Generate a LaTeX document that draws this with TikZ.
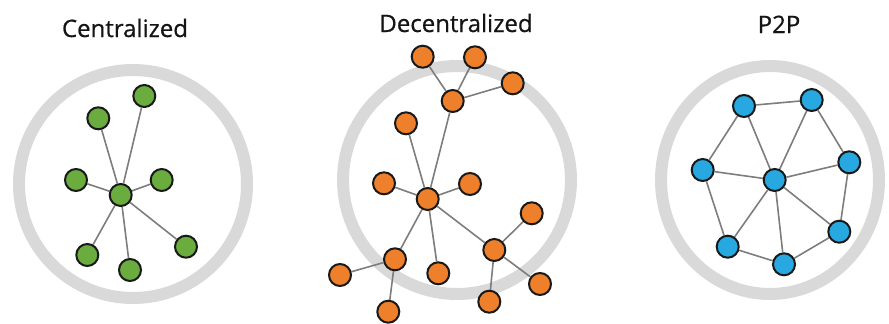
\documentclass[tikz,border=0pt]{standalone}
\usepackage{fontspec}
\setmainfont{Open Sans}
\newfontfamily\titlefont{Open Sans}[FakeBold=0.6]
\pgfdeclarelayer{ringlayer}
\pgfdeclarelayer{edgelayer}
\pgfsetlayers{ringlayer,edgelayer,main}

\definecolor{ringgray}{RGB}{217,217,217}
\definecolor{edgegray}{RGB}{125,125,125}
\definecolor{outline}{RGB}{25,25,25}
\definecolor{greenfill}{RGB}{106,172,62}
\definecolor{orangefill}{RGB}{238,128,44}
\definecolor{bluefill}{RGB}{40,168,224}
\definecolor{titlecol}{RGB}{20,20,20}

\tikzset{
  peer/.style={circle, draw=outline, line width=2pt, minimum size=22pt, inner sep=0pt},
  gpeer/.style={peer, fill=greenfill},
  opeer/.style={peer, fill=orangefill},
  bpeer/.style={peer, fill=bluefill},
  link/.style={draw=edgegray, line width=1.6pt},
  ring/.style={draw=ringgray, line width=12pt},
  title/.style={anchor=base, text=titlecol, font=\titlefont\fontsize{24}{28}\selectfont, inner sep=0pt}
}

\begin{document}
\begin{tikzpicture}[x=1pt, y=-1pt]
\useasboundingbox (0,0) rectangle (889,324);

% titles
\node[title] (tc) at (125,37) {Centralized};
\node[title] (td) at (456,32) {Decentralized};
\node[title] (tp) at (779,33) {P2P};

% boundary rings
\begin{pgfonlayer}{ringlayer}
  \draw[ring] (133,184) circle [radius=114];
  \draw[ring] (457,180) circle [radius=114];
  \draw[ring] (770,180) ellipse [x radius=109, y radius=114];
\end{pgfonlayer}

% centralized: a single hub
\node[gpeer] (c0) at (120.7,195) {};
\node[gpeer] (c1) at (144.3,96) {};
\node[gpeer] (c2) at (98.3,118.3) {};
\node[gpeer] (c3) at (76,180) {};
\node[gpeer] (c4) at (161.7,180) {};
\node[gpeer] (c5) at (87.3,255) {};
\node[gpeer] (c6) at (130,270) {};
\node[gpeer] (c7) at (186,246.7) {};

% decentralized: several hubs
\node[opeer] (d1) at (422.7,56.7) {};
\node[opeer] (d2) at (475,57.3) {};
\node[opeer] (d3) at (512.7,83.3) {};
\node[opeer] (h1) at (452.7,101) {};
\node[opeer] (d4) at (406,123.3) {};
\node[opeer] (d5) at (384,183.3) {};
\node[opeer] (dc) at (427.7,199) {};
\node[opeer] (d6) at (470,184) {};
\node[opeer] (d7) at (531.7,213.3) {};
\node[opeer] (h3) at (494.3,250) {};
\node[opeer] (h2) at (395,259.3) {};
\node[opeer] (d8) at (340,275) {};
\node[opeer] (d9) at (438.3,273.3) {};
\node[opeer] (d10) at (388.3,311.7) {};
\node[opeer] (d11) at (489.3,301.7) {};
\node[opeer] (d12) at (540,284) {};

% peer to peer mesh
\node[bpeer] (p1) at (744,106) {};
\node[bpeer] (p2) at (811.7,100) {};
\node[bpeer] (p3) at (702.7,170) {};
\node[bpeer] (pc) at (774.7,180) {};
\node[bpeer] (p4) at (849.3,162.3) {};
\node[bpeer] (p5) at (727.7,246.7) {};
\node[bpeer] (p6) at (784,264.3) {};
\node[bpeer] (p7) at (839.3,231.7) {};

\begin{pgfonlayer}{edgelayer}
  \foreach \n in {c1,c2,c3,c4,c5,c6,c7} \draw[link] (c0) -- (\n);
  \foreach \a/\b in {d1/h1, d2/h1, d3/h1, h1/dc, d4/dc, d5/dc, d6/dc,
                     dc/h2, dc/d9, dc/h3, h3/d7, h3/d12, h3/d11, h2/d8, h2/d10}
    \draw[link] (\a) -- (\b);
  \foreach \a/\b in {p1/p2, p1/p3, p1/pc, p2/pc, p2/p4, p3/pc, p3/p5,
                     pc/p4, pc/p5, pc/p6, pc/p7, p4/p7, p5/p6, p6/p7}
    \draw[link] (\a) -- (\b);
\end{pgfonlayer}
\end{tikzpicture}
\end{document}
